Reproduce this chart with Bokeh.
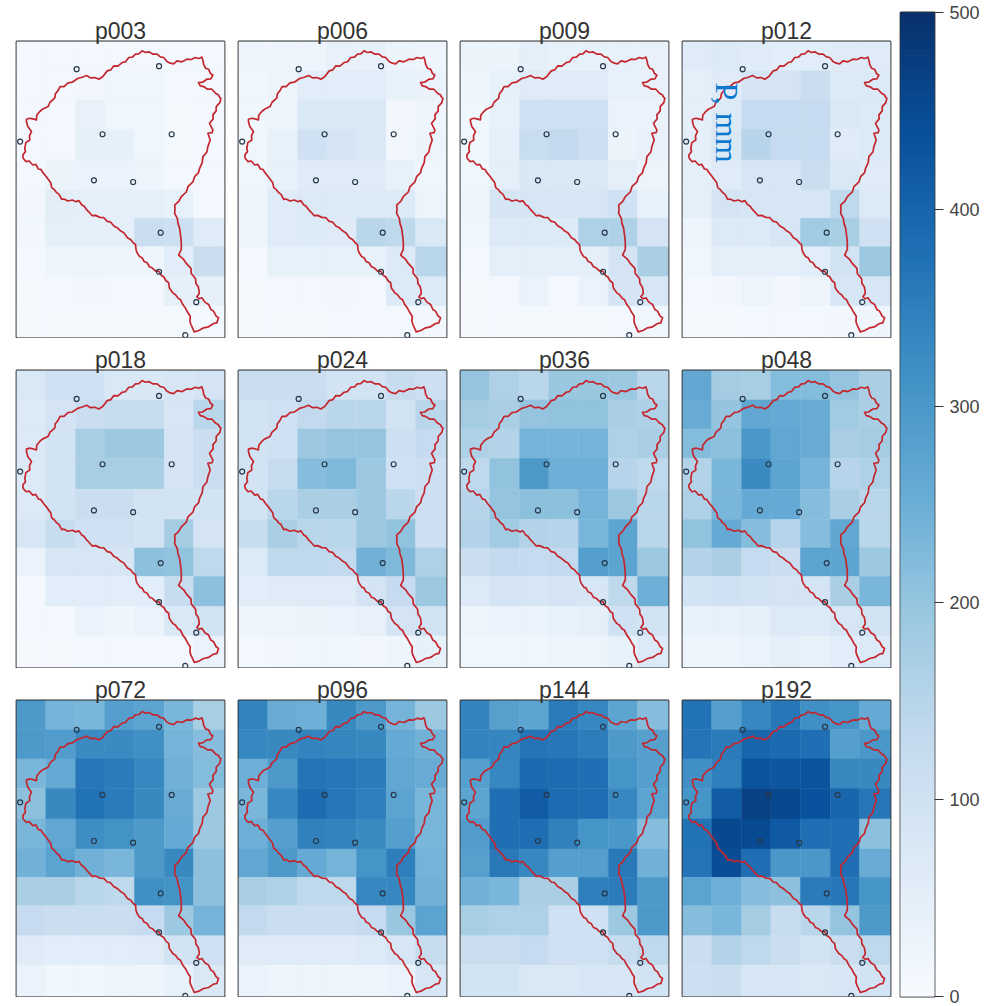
from bokeh.plotting import figure
from bokeh.layouts import row, column
from bokeh.models import (ColumnDataSource, LinearColorMapper, Range1d, Label, Title, FixedTicker)
from bokeh.palettes import Blues256
from bokeh.embed import file_html
from bokeh.resources import INLINE
import numpy as np

panel_names = ["p003","p006","p009","p012","p018","p024","p036","p048","p072","p096","p144","p192"]

p003 = [[11,11,11,13,13,11,13],[11,13,16,19,19,13,13],[11,11,38,20,20,8,11],[11,11,44,44,20,8,11],[13,30,34,34,27,13,11],
        [16,52,48,48,48,41,11],[16,48,48,48,112,106,62],[11,24,24,24,24,55,114],[8,11,16,13,11,44,44],[7,7,8,8,8,8,11]]
p006 = [[24,24,27,38,38,30,24],[20,27,55,55,55,41,34],[20,24,75,75,75,16,24],[20,41,102,89,75,16,27],[20,41,62,62,62,41,20],
        [24,62,69,69,69,69,27],[24,62,66,62,144,138,75],[13,41,41,41,41,69,144],[7,13,13,16,13,69,69],[7,7,7,11,11,11,16]]
p009 = [[30,30,48,41,41,41,38],[24,41,62,62,62,41,38],[20,41,102,102,102,34,34],[20,48,118,132,108,30,38],[20,48,75,75,75,48,27],
        [27,85,82,82,82,102,41],[20,69,69,66,162,162,89],[11,48,48,48,48,89,168],[7,11,34,13,34,85,82],[7,7,8,8,8,11,20]]
p012 = [[62,69,62,55,55,62,62],[48,62,89,89,114,69,69],[48,69,126,126,126,75,69],[48,75,150,126,126,62,69],[48,62,82,82,114,75,62],
        [48,89,82,82,82,138,69],[27,69,69,82,184,173,102],[20,48,48,48,55,95,190],[11,16,27,16,27,82,82],[7,8,11,11,11,16,24]]
p018 = [[75,102,102,75,75,82,89],[69,89,114,120,120,82,144],[69,95,173,190,190,89,114],[69,95,173,173,173,89,114],[69,95,114,114,95,95,95],
        [82,120,102,102,95,178,89],[34,82,82,82,210,205,138],[13,55,55,55,55,120,210],[11,13,34,24,34,75,95],[7,7,13,13,13,13,34]]
p024 = [[114,114,114,95,95,120,108],[95,102,132,144,144,95,144],[95,102,190,200,200,108,126],[95,120,215,226,190,102,108],[95,144,168,168,190,144,108],
        [120,168,144,144,190,205,108],[69,138,138,132,243,226,162],[55,62,62,62,89,126,190],[27,27,30,34,38,89,95],[13,16,20,20,16,24,41]]
p036 = [[200,162,144,195,195,190,144],[178,168,200,205,205,168,162],[162,156,238,238,238,162,168],[138,205,295,248,248,150,138],[150,200,210,210,238,190,144],
        [156,184,156,150,232,270,144],[114,132,126,132,285,270,190],[69,89,82,89,82,138,248],[27,34,34,41,48,102,95],[20,20,20,27,27,41,69]]
p048 = [[264,178,173,220,220,200,168],[254,200,264,259,254,184,168],[220,210,300,264,254,168,178],[156,232,325,270,238,150,162],[162,232,259,259,215,168,144],
        [205,259,215,150,215,264,144],[156,168,126,114,275,270,190],[95,102,95,89,89,168,232],[41,41,48,69,69,82,95],[27,27,34,48,41,55,69]]
p072 = [[295,238,232,285,275,232,173],[295,290,325,325,315,238,215],[232,259,365,357,333,243,220],[210,329,373,357,329,254,190],[232,264,320,310,295,259,190],
        [243,275,243,232,295,329,210],[168,168,144,138,315,310,210],[126,114,114,114,126,190,238],[62,55,55,55,62,95,102],[34,20,20,27,27,41,75]]
p096 = [[341,254,248,329,295,238,190],[333,329,341,337,329,259,243],[248,295,369,365,357,264,254],[232,333,384,365,349,275,232],[248,285,345,341,325,285,232],
        [264,295,259,238,305,349,238],[168,162,138,138,333,333,243],[132,114,114,114,126,195,275],[62,62,62,62,69,82,120],[34,27,27,27,27,34,82]]
p144 = [[341,280,270,357,333,270,215],[341,337,369,365,353,295,280],[285,333,388,384,377,305,285],[270,377,415,384,380,333,275],[290,377,380,345,305,300,215],
        [280,361,333,285,285,361,243],[243,232,168,168,349,357,295],[173,162,162,102,102,190,295],[114,114,126,102,102,120,138],[95,95,75,75,82,82,95]]
p192 = [[373,285,333,365,315,305,259],[369,357,396,388,377,285,300],[315,349,428,425,428,329,329],[305,415,468,455,435,396,365],[373,455,450,418,377,377,210],
        [369,445,380,300,300,377,254],[275,248,215,210,357,365,305],[215,232,178,120,144,200,295],[114,156,138,114,95,114,138],[108,114,82,82,75,82,95]]
panel_values = [p003,p006,p009,p012,p018,p024,p036,p048,p072,p096,p144,p192]

# map coordinates shared by every panel
map_x_edges = [47,135,225,313,402,492,580,673]
map_y_edges = [125,213,300,388,480,570,655,740,830,918,1012]

station_x = [228,476,58,306,514,280,398,481,476,588,555]
station_y = [208,199,425,403,403,541,546,698,815,906,1005]

basin_x = [67,76,85,96,105,113,120,129,135,144,150,153,160,168,175,183,190,202,215,226,235,243,250,258,265,275,285,298,310,320,330,340,350,361,370,381,390,399,405,407,410,418,425,431,440,447,455,466,475,483,490,497,505,507,510,518,525,533,540,548,555,563,570,569,572,578,582,596,610,625,640,650,655,648,640,632,625,614,605,597,590,597,596,594,587,586,573,572,558,550,535,543,543,542,540,538,533,531,523,524,523,536,543,558,563,578,583,595,598,606,608,620,623,630,623,636,638,633,628,639,638,648,648,659,662,657,655,646,635,622,610,600,595,607,620,632,638,631,625,616,610,609,605,595,585,573,560,545,530,520,510,500,490,480,470,458,445,435,425,415,405,396,385,375,365,352,340,331,320,307,295,283,270,258,245,231,215,202,190,178,172,164,162,148,142,125,117,108,107,93,87,77,77,81,92,86,87,75,74,72,74,66,67]
basin_y = [475,485,483,495,493,507,508,521,528,540,548,563,568,578,583,598,597,603,600,605,602,614,618,629,636,647,646,652,653,664,666,678,683,693,698,713,718,729,733,750,758,770,773,784,788,800,803,813,813,826,830,842,848,863,868,879,883,894,898,914,923,938,948,964,973,986,995,991,983,980,970,968,953,948,933,928,913,906,893,896,890,880,870,860,850,836,820,805,790,778,765,748,730,715,700,685,670,655,640,626,615,603,590,576,560,546,530,518,505,488,470,456,440,420,400,398,390,381,370,357,345,333,320,308,295,290,285,280,268,268,260,258,248,247,238,237,226,221,208,205,193,185,172,176,173,179,178,186,183,192,190,185,173,171,163,163,156,158,153,162,163,172,173,186,188,199,198,210,213,230,238,233,234,227,232,236,247,249,260,260,272,282,295,307,320,328,335,346,360,356,355,358,365,380,395,408,420,428,435,445,455,465,475]

row_shift = [0, 2, 5]     # vertical offset of the map overlay between the rows of panels
frame_heights = [296, 297, 296]
top_borders = [41, 32, 32]

colorbar_ticks = [0, 100, 200, 300, 400, 500]

mapper = LinearColorMapper(palette=list(Blues256[::-1]), low=0, high=500)


def make_panel(name, values, r, c):
    h = frame_heights[r]
    p = figure(frame_width=208, frame_height=h, output_backend="svg", toolbar_location=None,
               x_axis_location=None, y_axis_location=None,
               x_range=Range1d(map_x_edges[0], map_x_edges[-1]),
               y_range=Range1d(map_y_edges[-1], map_y_edges[0]),
               min_border_left=16 if c == 0 else 8, min_border_right=6,
               min_border_top=top_borders[r], min_border_bottom=1,
               background_fill_color="white", border_fill_color=None)
    p.grid.visible = False
    p.title = Title(text=name, align="center", text_font="Liberation Sans", text_font_size="23px",
                    text_font_style="normal", text_color="#333333", standoff=-4, offset=0)
    left, right, top, bottom, val = [], [], [], [], []
    for i, line in enumerate(values):
        for j, v in enumerate(line):
            left.append(map_x_edges[j]); right.append(map_x_edges[j + 1])
            top.append(map_y_edges[i]); bottom.append(map_y_edges[i + 1])
            val.append(v)
    src = ColumnDataSource(dict(left=left, right=right, top=top, bottom=bottom, val=val))
    cmap = {"field": "val", "transform": mapper}
    p.quad(left="left", right="right", top="top", bottom="bottom", source=src,
           fill_color=cmap, line_color=cmap, line_width=0.5)
    dy = row_shift[r]
    p.line([x for x in basin_x], [y + dy for y in basin_y], line_color="#c4262e", line_width=1.7,
           line_join="round")
    p.scatter([x for x in station_x], [y + dy for y in station_y], size=5, fill_color=None,
              line_color="#26384a", line_width=1.2)
    p.outline_line_color = "#333333"
    p.outline_line_width = 1.8
    return p


rows = []
k = 0
for r in range(3):
    figs = []
    for c in range(4):
        figs.append(make_panel(panel_names[k], panel_values[k], r, c))
        k += 1
    rows.append(row(*figs, spacing=0))

# "P, mm" sits inside p012
rows[0].children[3].add_layout(Label(x=180, y=248, x_units="data", y_units="data", text="P, mm",
                                     angle=-90, angle_units="deg", text_align="left",
                                     text_baseline="alphabetic", text_font="Liberation Serif",
                                     text_font_size="32px", text_color="#0b79d0"))

cb = figure(frame_width=34, frame_height=984, output_backend="svg", toolbar_location=None,
            x_axis_location=None, y_axis_location="right",
            x_range=Range1d(0, 1), y_range=Range1d(colorbar_ticks[0], colorbar_ticks[-1]),
            min_border_left=4, min_border_right=0, min_border_top=12, min_border_bottom=10,
            border_fill_color=None)
cb.grid.visible = False
levels = np.arange(0, 500, 2)
cb.quad(left=0, right=1, bottom=levels, top=levels + 2,
        fill_color={"field": "bottom", "transform": mapper},
        line_color={"field": "bottom", "transform": mapper}, line_width=1)
ax = cb.yaxis[0]
ax.ticker = FixedTicker(ticks=colorbar_ticks)
ax.axis_line_color = None
ax.major_tick_in = 0
ax.major_tick_out = 9
ax.major_tick_line_color = "#333333"
ax.major_tick_line_width = 1.2
ax.minor_tick_line_color = None
ax.major_label_standoff = 6
ax.major_label_text_font = "Liberation Sans"
ax.major_label_text_font_size = "18px"
ax.major_label_text_color = "#444444"
cb.outline_line_color = "#333333"
cb.outline_line_width = 1.8

layout = row(column(*rows, spacing=0), cb, spacing=0)
open("out.html", "w").write(file_html(layout, INLINE))
